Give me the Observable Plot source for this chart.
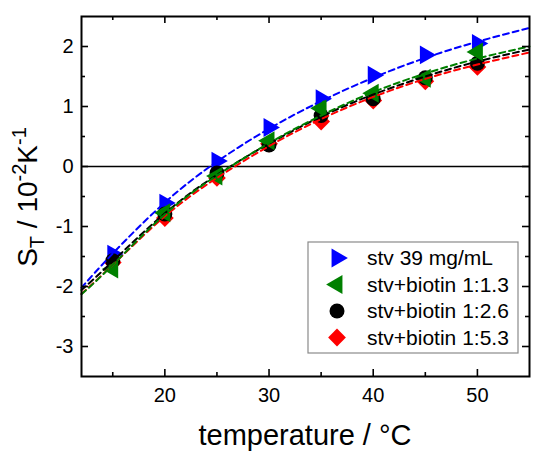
<!DOCTYPE html>
<html><head><meta charset="utf-8">
<script src="https://cdn.jsdelivr.net/npm/d3@7"></script>
<script src="https://cdn.jsdelivr.net/npm/@observablehq/plot@0.6"></script>
<style>
body{margin:0;background:#fff}
svg{font-family:Arial,"Liberation Sans",sans-serif}
</style>
</head><body><div id="chart"></div>
<script>
// measured data (temperature in °C, S_T in 10^-2 K^-1)
const temps = [15, 20, 25, 30, 35, 40, 45, 50];
const stv39     = [-1.46, -0.61, 0.09, 0.65, 1.13, 1.52, 1.86, 2.05];
const biotin13  = [-1.71, -0.77, -0.16, 0.43, 0.97, 1.22, 1.47, 1.91];
const biotin26  = [-1.57, -0.79, -0.11, 0.36, 0.85, 1.13, 1.48, 1.72];
const biotin53  = [-1.60, -0.86, -0.19, 0.38, 0.75, 1.10, 1.42, 1.66];

// fitted curves
const fitT = [12, 15, 20, 25, 30, 35, 40, 45, 50, 55];
const fitStv39    = [-2.02, -1.45, -0.60, 0.08, 0.63, 1.09, 1.48, 1.81, 2.08, 2.31];
const fitBiotin13 = [-2.13, -1.64, -0.80, -0.15, 0.39, 0.85, 1.24, 1.55, 1.80, 2.00];
const fitBiotin26 = [-2.06, -1.58, -0.78, -0.14, 0.38, 0.83, 1.20, 1.50, 1.75, 1.95];
const fitBiotin53 = [-2.12, -1.64, -0.83, -0.19, 0.34, 0.79, 1.16, 1.46, 1.70, 1.90];

const seriesNames = ["stv 39 mg/mL", "stv+biotin 1:1.3", "stv+biotin 1:2.6", "stv+biotin 1:5.3"];
const seriesColors = ["#0000ff", "#008000", "#000000", "#ff0000"];

const xMajor = [20, 30, 40, 50];
const xMinor = [15, 25, 35, 45];
const yMajor = [-3, -2, -1, 0, 1, 2];
const yMinor = [-2.5, -1.5, -0.5, 0.5, 1.5];

const W = 550, H = 454, mL = 81, mR = 21, mT = 16, mB = 78;
const innerW = W - mL - mR, innerH = H - mT - mB;

const pts = (ys) => temps.map((t, i) => ({t, v: ys[i]}));
const fit = (ys) => fitT.map((t, i) => ({t, v: ys[i]}));

const dash = {strokeWidth: 2, strokeDasharray: "6,4", curve: "natural"};
const tk = {stroke: "black", strokeWidth: 1.6};

const plot = Plot.plot({
  width: W, height: H,
  marginLeft: mL, marginRight: mR, marginTop: mT, marginBottom: mB,
  x: {domain: [12, 55]},
  y: {domain: [-3.5, 2.5]},
  style: {fontFamily: "Arial, 'Liberation Sans', sans-serif", background: "white"},
  marks: [
    Plot.ruleY([0], {stroke: "black", strokeWidth: 1.6}),
    Plot.dot(pts(biotin53), {x: "t", y: "v", symbol: "diamond2", r: 8, fill: seriesColors[3], stroke: "none"}),
    Plot.dot(pts(stv39), {x: "t", y: "v", symbol: "triangle", rotate: 90, r: 7, fill: seriesColors[0], stroke: "none"}),
    Plot.dot(pts(biotin26), {x: "t", y: "v", symbol: "circle", r: 7.5, fill: seriesColors[2], stroke: "none"}),
    Plot.dot(pts(biotin13), {x: "t", y: "v", symbol: "triangle", rotate: -90, r: 7, fill: seriesColors[1], stroke: "none"}),
    Plot.line(fit(fitBiotin53), {x: "t", y: "v", stroke: seriesColors[3], ...dash}),
    Plot.line(fit(fitBiotin26), {x: "t", y: "v", stroke: seriesColors[2], ...dash}),
    Plot.line(fit(fitBiotin13), {x: "t", y: "v", stroke: seriesColors[1], ...dash}),
    Plot.line(fit(fitStv39), {x: "t", y: "v", stroke: seriesColors[0], ...dash}),
    // inward ticks (bottom/top/left/right)
    Plot.ruleX(xMajor, {x: d => d, insetTop: innerH - 7, ...tk}),
    Plot.ruleX(xMinor, {x: d => d, insetTop: innerH - 4, ...tk}),
    Plot.ruleX(xMajor, {x: d => d, insetBottom: innerH - 7, ...tk}),
    Plot.ruleX(xMinor, {x: d => d, insetBottom: innerH - 4, ...tk}),
    Plot.ruleY(yMajor, {y: d => d, insetRight: innerW - 7, ...tk}),
    Plot.ruleY(yMinor, {y: d => d, insetRight: innerW - 4, ...tk}),
    Plot.ruleY(yMajor, {y: d => d, insetLeft: innerW - 7, ...tk}),
    Plot.ruleY(yMinor, {y: d => d, insetLeft: innerW - 4, ...tk}),
    Plot.axisX({ticks: xMajor, tickSize: 0, tickPadding: 11, fontSize: 20, tickFormat: d => String(d), label: null, fill: "black"}),
    Plot.axisY({ticks: yMajor, tickSize: 0, tickPadding: 8, fontSize: 20, tickFormat: d => String(d), label: null, fill: "black"}),
    Plot.frame({stroke: "black", strokeWidth: 2})
  ]
});

const svg = d3.select(plot);

// x title
svg.append("text")
  .attr("x", 305).attr("y", 445)
  .attr("text-anchor", "middle")
  .attr("font-size", 29).attr("fill", "black")
  .text("temperature / °C");

// y title
const yt = svg.append("text")
  .attr("transform", "translate(37,197) rotate(-90)")
  .attr("text-anchor", "middle")
  .attr("font-size", 28).attr("fill", "black");
yt.append("tspan").text("S");
yt.append("tspan").attr("font-size", 20).attr("dy", 7).text("T");
yt.append("tspan").attr("font-size", 28).attr("dy", -7).text(" / 10");
yt.append("tspan").attr("font-size", 20).attr("dy", -11).text("-2");
yt.append("tspan").attr("font-size", 28).attr("dy", 11).text("K");
yt.append("tspan").attr("font-size", 20).attr("dy", -11).text("-1");

// legend
const lg = svg.append("g").attr("text-anchor", "start");
lg.append("rect").attr("x", 308).attr("y", 242).attr("width", 210).attr("height", 111)
  .attr("fill", "white").attr("stroke", "#8a8a8a").attr("stroke-width", 1.2);
const legSym = [
  {type: d3.symbolTriangle, size: Math.PI * 49, rot: 90},
  {type: d3.symbolTriangle, size: Math.PI * 49, rot: -90},
  {type: d3.symbolCircle, size: Math.PI * 56.25, rot: 0},
  {type: d3.symbolDiamond2, size: Math.PI * 64, rot: 0}
];
const rowY = [258, 284.5, 311, 337.5];
seriesNames.forEach((name, i) => {
  lg.append("path")
    .attr("d", d3.symbol().type(legSym[i].type).size(legSym[i].size)())
    .attr("transform", `translate(337,${rowY[i]}) rotate(${legSym[i].rot})`)
    .attr("fill", seriesColors[i]);
  lg.append("text").attr("x", 367).attr("y", rowY[i]).attr("dy", "0.35em")
    .attr("text-anchor", "start")
    .attr("font-size", 21).attr("fill", "black").text(name);
});

document.getElementById("chart").appendChild(plot);
</script>
</body></html>
